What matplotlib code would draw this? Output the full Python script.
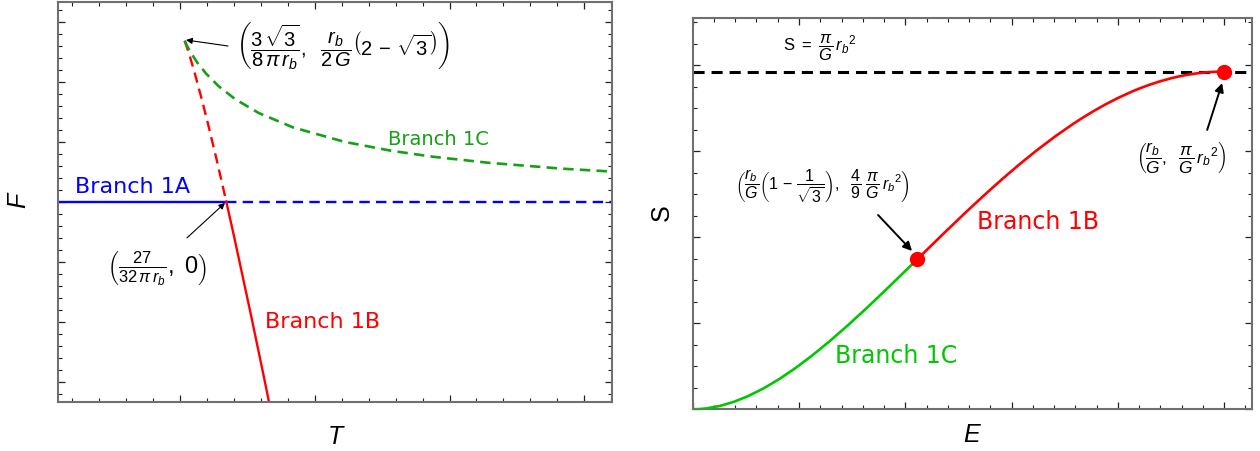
import matplotlib
matplotlib.use("Agg")
import matplotlib.pyplot as plt
from matplotlib.ticker import MultipleLocator, NullFormatter

plt.rcParams["mathtext.fontset"] = "custom"
plt.rcParams["mathtext.rm"] = "Liberation Sans"
plt.rcParams["mathtext.it"] = "Liberation Sans:italic"
plt.rcParams["mathtext.bf"] = "Liberation Sans:bold"
plt.rcParams["mathtext.sf"] = "Liberation Sans"
plt.rcParams["lines.scale_dashes"] = False

# ---------------- free energy F(T)  (r_b = G = 1) ----------------
T_range = [0.0187, 0.8408]
F_range = [-0.1665, 0.1665]

# hot flat space, F = 0
branch_1a_T_stable = [0.0, 0.26857]
branch_1a_F_stable = [0.0, 0.0]
branch_1a_T_meta = [0.26857, 1.0]
branch_1a_F_meta = [0.0, 0.0]

# large black hole
branch_1b_T_meta = [0.20675, 0.20755, 0.21221, 0.21549, 0.22242, 0.23253, 0.24173, 0.25369, 0.26857]
branch_1b_F_meta = [0.13397, 0.13277, 0.12500, 0.11903, 0.10557, 0.08443, 0.06403, 0.03621, 0.0]
branch_1b_T_stable = [0.26857, 0.27961, 0.30581, 0.32341, 0.34561]
branch_1b_F_stable = [0.0, -0.02774, -0.09602, -0.14334, -0.20433]

# small black hole
branch_1c_T = [0.20675, 0.20766, 0.20971, 0.21568, 0.22508, 0.23845, 0.25684, 0.28201,
               0.31704, 0.36755, 0.44485, 0.51381, 0.57542, 0.65627, 0.76683, 0.88051]
branch_1c_F = [0.13397, 0.13280, 0.13037, 0.12421, 0.11612, 0.10669, 0.09630, 0.08524,
               0.07370, 0.06181, 0.04967, 0.04231, 0.03737, 0.03242, 0.02745, 0.02372]

# ---------------- entropy S(E) ----------------
E_range = [0.0, 1.053]
S_range = [0.0, 3.637]

s_branch_1c_E = [0.0, 0.01258, 0.02532, 0.05132, 0.07805, 0.10557, 0.13397, 0.16334, 0.19377,
                 0.22540, 0.25838, 0.29289, 0.32918, 0.36754, 0.39172, 0.42265]
s_branch_1c_S = [0.0, 0.00196, 0.00785, 0.03142, 0.07069, 0.12566, 0.19635, 0.28274, 0.38485,
                 0.50266, 0.63617, 0.78540, 0.95033, 1.13097, 1.24690, 1.39626]
s_branch_1b_E = [0.42265, 0.45228, 0.47560, 0.50000, 0.52566, 0.55279, 0.58167, 0.61270,
                 0.64645, 0.68377, 0.71716, 0.73543, 0.75505, 0.77639, 0.80000, 0.82680,
                 0.84189, 0.85858, 0.87753, 0.90000, 0.91340, 0.92929, 0.95000, 0.96838,
                 0.98419, 0.99000, 1.0]
s_branch_1b_S = [1.39626, 1.53938, 1.65130, 1.76715, 1.88692, 2.01062, 2.13824, 2.26980,
                 2.40528, 2.54469, 2.65904, 2.71716, 2.77591, 2.83529, 2.89529, 2.95592,
                 2.98648, 3.01719, 3.04805, 3.07907, 3.09464, 3.11026, 3.12591, 3.13531,
                 3.14002, 3.14096, 3.14159]
s_max = 3.14159
marked_E = [0.42265, 1.0]
marked_S = [1.39626, 3.14159]

W, H = 1260, 451
fig = plt.figure(figsize=(W / 100, H / 100), dpi=100)


def px_axes(x0, y0, x1, y1):
    return fig.add_axes([x0 / W, 1 - y1 / H, (x1 - x0) / W, (y1 - y0) / H])


def style_frame(ax, xmaj, xmin, ymaj, ymin):
    for sp in ax.spines.values():
        sp.set_color("#707070")
        sp.set_linewidth(1.5)
    ax.xaxis.set_major_locator(MultipleLocator(xmaj))
    ax.xaxis.set_minor_locator(MultipleLocator(xmin))
    ax.yaxis.set_major_locator(MultipleLocator(ymaj))
    ax.yaxis.set_minor_locator(MultipleLocator(ymin))
    ax.xaxis.set_major_formatter(NullFormatter())
    ax.yaxis.set_major_formatter(NullFormatter())
    ax.tick_params(which="both", direction="in", top=True, right=True,
                   labelbottom=False, labelleft=False, color="#222222")
    ax.tick_params(which="major", length=5, width=0.9)
    ax.tick_params(which="minor", length=3, width=0.8)


def arrow(ax, tail, head, lw, scale):
    ax.annotate("", xy=head, xytext=tail,
                arrowprops=dict(arrowstyle="-|>", color="black", lw=lw,
                                mutation_scale=scale, shrinkA=0, shrinkB=0))


# ---------------- left panel ----------------
ax1 = px_axes(58, 1.7, 611.7, 401.5)
ax1.set_xlim(*T_range)
ax1.set_ylim(*F_range)
style_frame(ax1, 0.2, 0.04, 0.05, 0.01)

blue = "#0000ff"
red = "#ff0000"
green_l = "#15a015"
ax1.plot(branch_1a_T_stable, branch_1a_F_stable, color=blue, lw=1.7)
ax1.plot(branch_1a_T_meta, branch_1a_F_meta, color=blue, lw=1.7, dashes=(7.5, 4.5))
ax1.plot(branch_1b_T_meta, branch_1b_F_meta, color=red, lw=1.7, dashes=(7.5, 4.5))
ax1.plot(branch_1b_T_stable, branch_1b_F_stable, color=red, lw=1.7)
ax1.plot(branch_1c_T, branch_1c_F, color=green_l, lw=1.9, dashes=(7.5, 4.5))

ax1.text(0.044, 0.0072, "Branch 1A", color=blue, fontsize=16, ha="left", va="baseline")
ax1.text(0.5087, 0.0472, "Branch 1C", color=green_l, fontsize=14, ha="left", va="baseline")
ax1.text(0.326, -0.1052, "Branch 1B", color=red, fontsize=16, ha="left", va="baseline")

ax1.text(0.283, 0.1288,
         r"$\left(\dfrac{3\,\sqrt{3}}{8\,\pi\,r_b},\ \ \dfrac{r_b}{2\,G}\left(2\,-\,\sqrt{3}\right)\right)$",
         fontsize=14.5, ha="left", va="center")
arrow(ax1, (0.2711, 0.1296), (0.2088, 0.1346), 0.8, 9)

ax1.text(0.1658, -0.0560, r"$\left(\frac{27}{32\,\pi\,r_b},\ 0\right)$",
         fontsize=17, ha="center", va="center")
arrow(ax1, (0.2102, -0.0302), (0.2667, -0.0011), 0.8, 9)

fig.text(18 / W, 1 - 200 / H, "F", fontsize=18, style="italic", family="Liberation Sans",
         rotation=90, ha="center", va="center")
fig.text(335 / W, 1 - 437 / H, "T", fontsize=18, style="italic", family="Liberation Sans",
         ha="center", va="center")

# ---------------- right panel ----------------
ax2 = px_axes(692.7, 18.3, 1252.3, 409.3)
ax2.set_xlim(*E_range)
ax2.set_ylim(*S_range)
style_frame(ax2, 0.2, 0.04, 0.8, 0.2)

green_r = "#00c800"
ax2.axhline(s_max, color="black", lw=2.2, dashes=(8, 5), zorder=2)
ax2.plot(s_branch_1c_E, s_branch_1c_S, color=green_r, lw=1.9, zorder=3)
ax2.plot(s_branch_1b_E, s_branch_1b_S, color=red, lw=1.9, zorder=3)
ax2.plot(marked_E, marked_S, "o", color=red, ms=10, zorder=4, clip_on=False)

ax2.text(0.170, 3.361, r"$\mathrm{S}\ =\ \dfrac{\pi}{G}\,{r_b}^{2}$", fontsize=12,
         ha="left", va="center")
ax2.text(0.535, 1.677, "Branch 1B", color=red, fontsize=17, ha="left", va="baseline")
ax2.text(0.268, 0.431, "Branch 1C", color=green_r, fontsize=17, ha="left", va="baseline")

ax2.text(0.2434, 2.077,
         r"$\left(\dfrac{r_b}{G}\left(1\,-\,\dfrac{1}{\sqrt{3}}\right),\ \ \dfrac{4}{9}\ \dfrac{\pi}{G}\,{r_b}^{2}\right)$",
         fontsize=11.5, ha="center", va="center")
arrow(ax2, (0.3488, 1.8074), (0.4127, 1.4726), 1.4, 13)

ax2.text(0.919, 2.347, r"$\left(\dfrac{r_b}{G},\ \ \dfrac{\pi}{G}\,{r_b}^{2}\right)$",
         fontsize=12.5, ha="center", va="center")
arrow(ax2, (0.9681, 2.5981), (0.9963, 3.0353), 1.4, 13)

fig.text(662 / W, 1 - 213 / H, "S", fontsize=18, family="Liberation Sans",
         rotation=90, ha="center", va="center")
fig.text(972 / W, 1 - 435 / H, "E", fontsize=18, style="italic", family="Liberation Sans",
         ha="center", va="center")

fig.savefig("out.png", dpi=100)
